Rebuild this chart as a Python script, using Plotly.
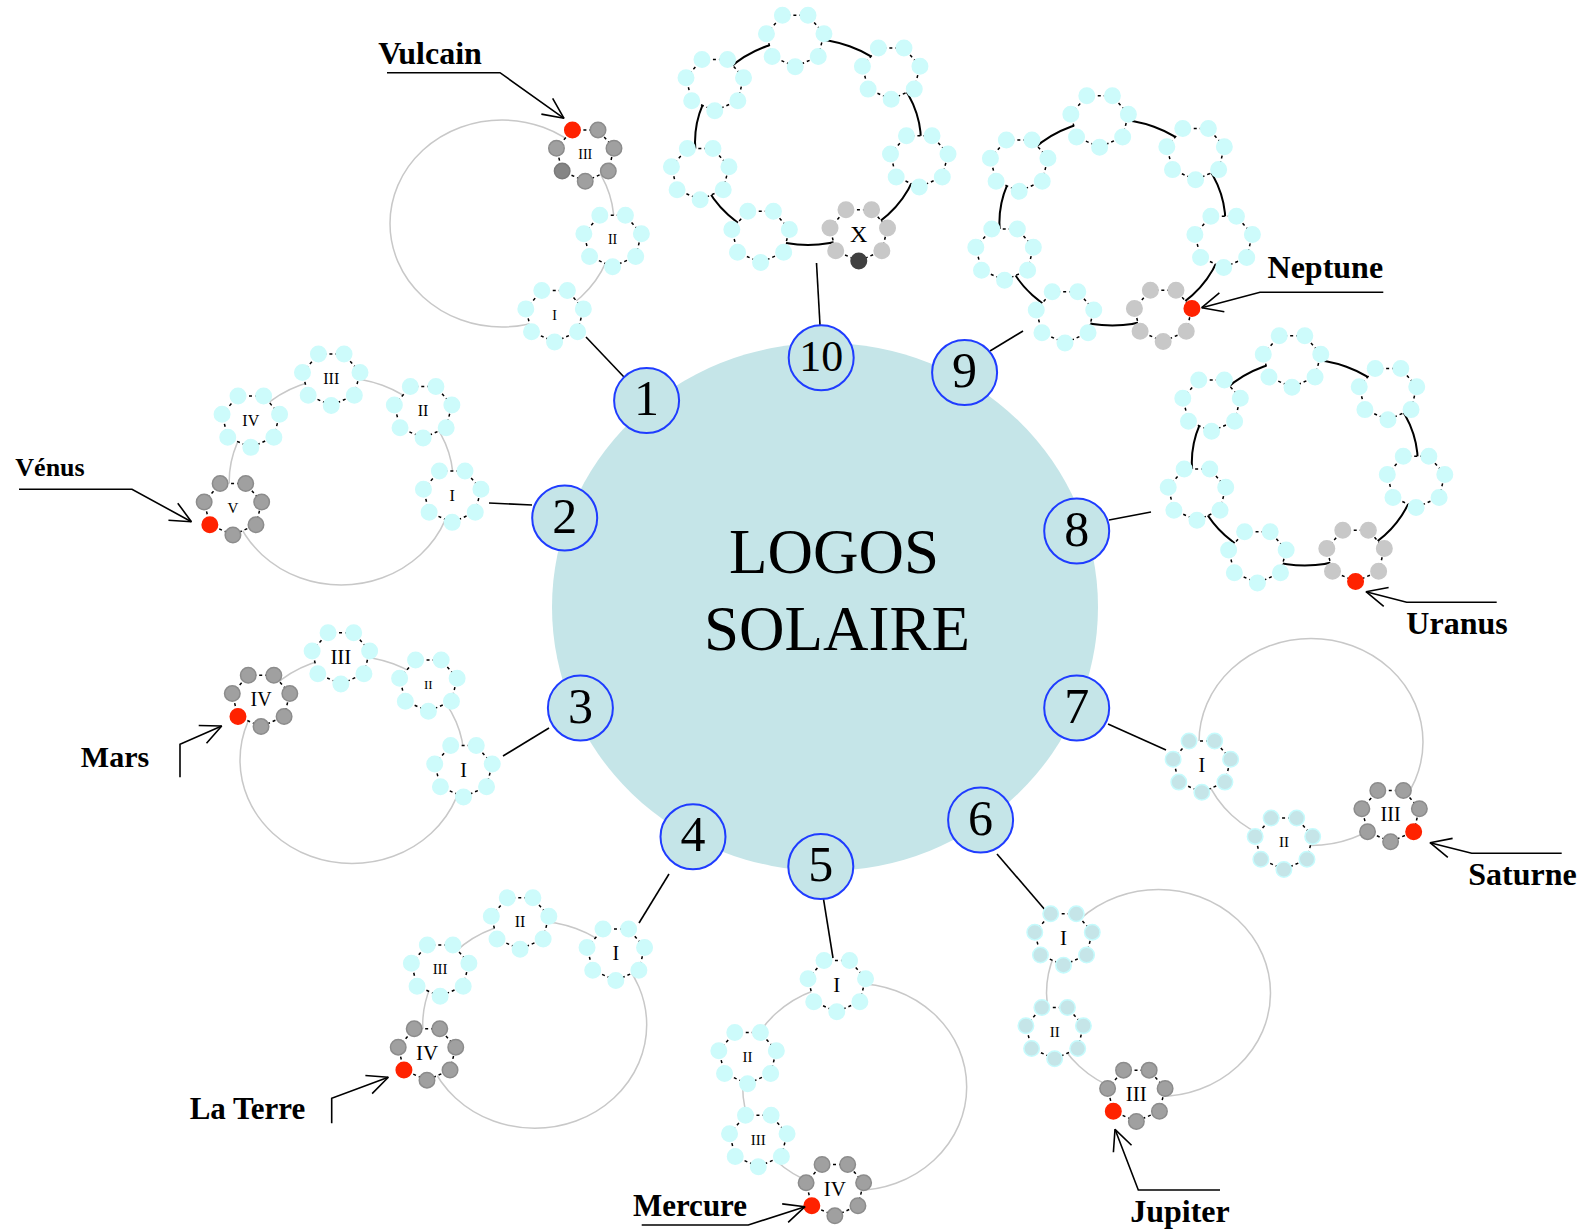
import math
import plotly.graph_objects as go

# ---------------- data ----------------
chain_numbers = ["1", "2", "3", "4", "5", "6", "7", "8", "9", "10"]
planet_names = ["Vulcain", "Vénus", "Mars", "La Terre", "Mercure",
                "Jupiter", "Saturne", "Uranus", "Neptune", ""]
globe_labels = [
    ["I", "II", "III"],
    ["I", "II", "III", "IV", "V"],
    ["I", "II", "III", "IV"],
    ["I", "II", "III", "IV"],
    ["I", "II", "III", "IV"],
    ["I", "II", "III"],
    ["I", "II", "III"],
    ["", "", "", "", "", "", ""],
    ["", "", "", "", "", "", ""],
    ["X", "", "", "", "", "", ""],
]
current_globe = [2, 4, 3, 3, 3, 2, 2, 0, 0, 0]      # globe holding the physical planet
planet_dot = [3, 1, 1, 1, 1, 1, 6, 0, 5, -1]        # which of the 7 spheres is the planet
dark_dot = [1, -1, -1, -1, -1, -1, -1, -1, -1, 0]   # darker sphere on the current globe
shaded_past = [False, False, False, False, False, True, True, False, False, False]
center_title = ["LOGOS", "SOLAIRE"]

# ---------------- layout (positions / styles) ----------------
W, H = 1582, 1229
SERIF = "Liberation Serif, Times New Roman, serif"
SUN = dict(cx=825, cy=607, rx=273, ry=264)
SUN_FILL = "#c5e5e8"

chain_centers = [(502, 223.5), (341.2, 481.5), (352, 760), (534.7, 1024.8),
                 (854.7, 1087), (1158.5, 993), (1311, 742),
                 (1304.8, 462.5), (1112.4, 222.5), (808, 142)]
big7 = [63.3, 114.8, 162.6, -145.6, -96.5, -42.6, 10.1]
chain_angles = [
    [62, 9, -42],
    [7.7, -43, -95.1, -143.8, 165.2],
    [5.5, -47, -95.7, -144.3],
    [-43.6, -97.5, -147.6, 164.1],
    [-99.2, -163, 149.4, 100.2],
    [-148, 158, 101.4],
    [167, 104, 44.7],
    big7, big7, big7,
]
ring_r = [(112, 103.5)] * 7 + [(113, 103)] * 3
ring_color = ["#c8c8c8"] * 7 + ["#000000"] * 3
ring_width = [1.5] * 7 + [2] * 3
globe_font = [[14, 14, 14], [16, 16, 16, 16, 15], [20, 13, 21, 20], [20, 16, 15, 21],
              [21, 15, 15, 21], [21, 15, 21], [20, 15, 20], [12] * 7, [12] * 7, [24] + [12] * 6]

number_pos = [(646.6, 400.6), (564.7, 518), (580.4, 708), (693, 836.8), (820.8, 866.5),
              (980.6, 820), (1076.7, 708), (1076.7, 531), (964.6, 372.5), (821.2, 357.8)]
number_font = [50] * 9 + [44]
connectors = [((624, 377), (586, 337)), ((532, 505), (489, 503)), ((549, 728), (503, 756)),
              ((669, 874), (639, 923)), ((823.5, 899), (833, 958)), ((997, 854), (1046, 911)),
              ((1108, 724), (1166, 750)), ((1109, 520), (1151, 512)), ((990, 351), (1023, 331)),
              ((820, 325), (816.5, 263))]

callout_text_pos = [(430, 55.5), (50, 469), (115, 759), (247.5, 1111.5), (690, 1208),
                    (1180, 1214), (1522.5, 876.5), (1457, 625.5), (1325.3, 270)]
callout_font = [32, 26, 30, 31, 31, 32, 32, 32, 32]
callout_paths = [
    [(387, 72.7), (500, 72.7), (564, 118.3)],
    [(19, 489.3), (132, 489.3), (191.4, 521.7)],
    [(180, 777.3), (180, 744.3), (221.7, 726)],
    [(331.7, 1123.3), (331.7, 1098.3), (388.3, 1077.3)],
    [(641.7, 1225), (748.3, 1225), (805, 1206.7)],
    [(1220, 1190), (1138.3, 1190), (1115, 1129.3)],
    [(1561.7, 853.3), (1471.7, 853.3), (1430, 842.7)],
    [(1496.7, 602.3), (1406.7, 602.3), (1366, 591.7)],
    [(1383.3, 292.3), (1260, 292.3), (1201.7, 307.7)],
]
title_pos = [(834, 557), (837, 634)]

GR_X, GR_Y = 29.5, 27
DOT = 15.5
PALE = "#cdfbfb"
TEAL, TEAL_EDGE = "#c5e5e8", "#c6fbfd"
GRAY, GRAY_EDGE = "#a0a0a0", "#8c8c8c"
LGRAY = "#c8c8c8"
RED = "#ff2200"


def globe_vertices(gx, gy):
    pts = []
    for k in range(7):
        a = math.radians(90 + k * 360 / 7)
        pts.append((gx + GR_X * math.cos(a), gy + GR_Y * math.sin(a)))
    return pts


fig = go.Figure()
shapes = []
shapes.append(dict(type="circle", xref="x", yref="y", layer="below",
                   x0=SUN["cx"] - SUN["rx"], x1=SUN["cx"] + SUN["rx"],
                   y0=SUN["cy"] - SUN["ry"], y1=SUN["cy"] + SUN["ry"],
                   fillcolor=SUN_FILL, line=dict(width=0)))
for (p0, p1) in connectors:
    shapes.append(dict(type="line", xref="x", yref="y", layer="below",
                       x0=p0[0], y0=p0[1], x1=p1[0], y1=p1[1],
                       line=dict(color="black", width=1.6)))

fill_x, fill_y = [], []
dot_x, dot_y, dot_c, dot_lc = [], [], [], []
lab_x, lab_y, lab_t, lab_s = [], [], [], []

for i, (cx, cy) in enumerate(chain_centers):
    rx, ry = ring_r[i]
    shapes.append(dict(type="circle", xref="x", yref="y", layer="below",
                       x0=cx - rx, x1=cx + rx, y0=cy - ry, y1=cy + ry,
                       line=dict(color=ring_color[i], width=ring_width[i])))
    for j, lab in enumerate(globe_labels[i]):
        a = math.radians(chain_angles[i][j])
        gx, gy = cx + rx * math.cos(a), cy + ry * math.sin(a)
        verts = globe_vertices(gx, gy)
        fill_x += [v[0] for v in verts] + [verts[0][0], None]
        fill_y += [v[1] for v in verts] + [verts[0][1], None]
        for k, (vx, vy) in enumerate(verts):
            if j == current_globe[i]:
                if k == planet_dot[i]:
                    c, lc = RED, RED
                elif k == dark_dot[i]:
                    c = "#858585" if i < 7 else "#404040"
                    lc = "#7a7a7a" if i < 7 else "#404040"
                elif i < 7:
                    c, lc = GRAY, GRAY_EDGE
                else:
                    c, lc = LGRAY, LGRAY
            elif shaded_past[i] and j < current_globe[i]:
                c, lc = TEAL, TEAL_EDGE
            else:
                c, lc = PALE, PALE
            dot_x.append(vx); dot_y.append(vy); dot_c.append(c); dot_lc.append(lc)
        if lab:
            fs = globe_font[i][j]
            lab_x.append(gx); lab_y.append(gy + 0.08 * fs); lab_t.append(lab)
            lab_s.append(fs)

# white interior of each globe (hides the ring)
fig.add_trace(go.Scatter(x=fill_x, y=fill_y, mode="lines", fill="toself",
                         fillcolor="white", line=dict(width=0), hoverinfo="skip"))
# dotted outline
fig.add_trace(go.Scatter(x=fill_x, y=fill_y, mode="lines",
                         line=dict(color="black", width=1.5, dash="dot"), hoverinfo="skip"))
# spheres
fig.add_trace(go.Scatter(x=dot_x, y=dot_y, mode="markers",
                         marker=dict(size=DOT, color=dot_c,
                                     line=dict(color=dot_lc, width=1.5)),
                         hoverinfo="skip"))
# globe labels
fig.add_trace(go.Scatter(x=lab_x, y=lab_y, mode="text", text=lab_t,
                         textposition="middle center",
                         textfont=dict(family=SERIF, size=lab_s, color="black"),
                         hoverinfo="skip"))
# numbered circles
fig.add_trace(go.Scatter(x=[p[0] for p in number_pos], y=[p[1] for p in number_pos],
                         mode="markers",
                         marker=dict(size=65, color=SUN_FILL,
                                     line=dict(color="#1f3cff", width=2)),
                         hoverinfo="skip"))
fig.add_trace(go.Scatter(x=[p[0] for p in number_pos], y=[p[1] + 2 for p in number_pos],
                         mode="text", text=chain_numbers,
                         textposition="middle center",
                         textfont=dict(family=SERIF, size=number_font, color="black"),
                         hoverinfo="skip"))
# centre title
fig.add_trace(go.Scatter(x=[p[0] for p in title_pos], y=[p[1] for p in title_pos],
                         mode="text", text=center_title,
                         textposition="middle center",
                         textfont=dict(family=SERIF, size=63, color="black"),
                         hoverinfo="skip"))

# callout arrows
ax, ay = [], []
for path in callout_paths:
    ax += [p[0] for p in path] + [None]
    ay += [p[1] for p in path] + [None]
    prev, tip = path[-2], path[-1]
    ang = math.atan2(prev[1] - tip[1], prev[0] - tip[0])
    barbs = []
    for s in (1, -1):
        b = ang + s * math.radians(25)
        barbs.append((tip[0] + 23 * math.cos(b), tip[1] + 23 * math.sin(b)))
    ax += [barbs[0][0], tip[0], barbs[1][0], None]
    ay += [barbs[0][1], tip[1], barbs[1][1], None]
fig.add_trace(go.Scatter(x=ax, y=ay, mode="lines",
                         line=dict(color="black", width=1.6), hoverinfo="skip"))

# callout labels
for name, pos, fs in zip(planet_names, callout_text_pos, callout_font):
    fig.add_trace(go.Scatter(x=[pos[0]], y=[pos[1]], mode="text",
                             text=["<b>" + name + "</b>"], textposition="middle center",
                             textfont=dict(family=SERIF, size=fs, color="black"),
                             hoverinfo="skip"))

fig.update_layout(
    width=W, height=H, margin=dict(l=0, r=0, t=0, b=0),
    paper_bgcolor="white", plot_bgcolor="white", showlegend=False,
    hovermode=False, shapes=shapes,
    xaxis=dict(range=[0, W], visible=False, fixedrange=True),
    yaxis=dict(range=[H, 0], visible=False, fixedrange=True),
)

fig.write_html("out.html", config={"displayModeBar": False},
               post_script="document.body.style.margin='0px';document.body.style.overflow='hidden';")
